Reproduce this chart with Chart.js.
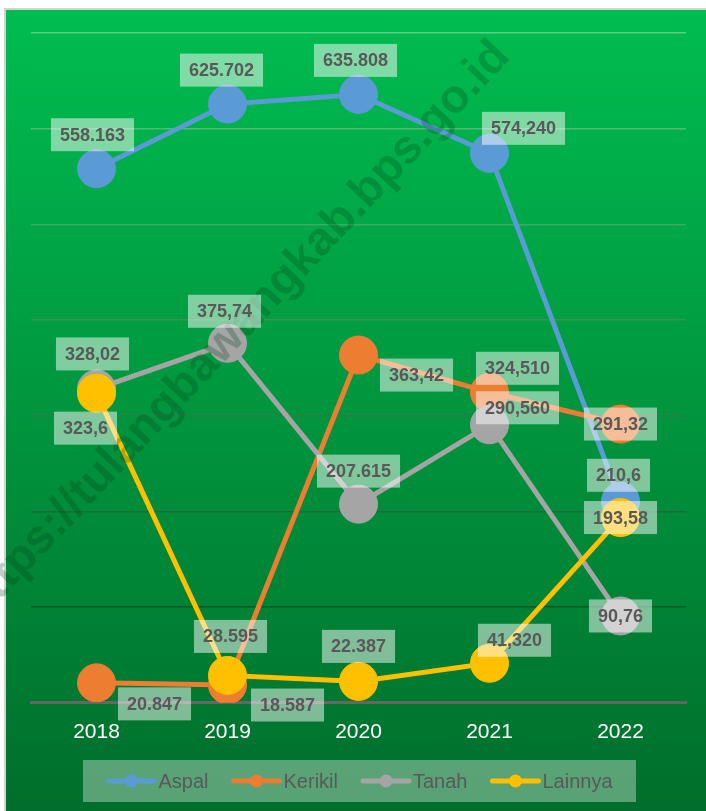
<!DOCTYPE html>
<html>
<head>
<meta charset="utf-8">
<script src="https://cdn.jsdelivr.net/npm/chart.js@4/dist/chart.umd.min.js"></script>
<style>
  html, body { margin: 0; padding: 0; background: #fff; }
  #wrap { width: 706px; height: 811px; }
</style>
</head>
<body>
<div id="wrap"><canvas id="roadChart" width="706" height="811"></canvas></div>
<script>
// --- Data ---
const years = ['2018', '2019', '2020', '2021', '2022'];
const aspal = [558.163, 625.702, 635.808, 574.240, 210.6];
const kerikil = [20.847, 18.587, 363.42, 324.510, 291.32];
const tanah = [328.02, 375.74, 207.615, 290.560, 90.76];
const lainnya = [323.6, 28.595, 22.387, 41.320, 193.58];

// labels as printed on the chart
const aspalText = ['558.163', '625.702', '635.808', '574,240', '210,6'];
const kerikilText = ['20.847', '18.587', '363,42', '324,510', '291,32'];
const tanahText = ['328,02', '375,74', '207.615', '290,560', '90,76'];
const lainnyaText = ['323,6', '28.595', '22.387', '41,320', '193,58'];

// label box offsets from the point (px)
const aspalOff = [[-4, -34], [-6, -34], [-3, -34], [34, -25], [-2, -26]];
const kerikilOff = [[58, 21], [60, 20], [58, 20], [28, -24], [0, 0]];
const tanahOff = [[-4, -35], [-3, -32], [0, -33], [28, -17], [0, 0]];
const lainnyaOff = [[-11, 35], [3, -39], [0, -35], [25, -23], [0, 0]];

const series = [
  { name: 'Aspal', values: aspal, text: aspalText, off: aspalOff, color: '#5b9bd5' },
  { name: 'Kerikil', values: kerikil, text: kerikilText, off: kerikilOff, color: '#ed7d31' },
  { name: 'Tanah', values: tanah, text: tanahText, off: tanahOff, color: '#a5a5a5' },
  { name: 'Lainnya', values: lainnya, text: lainnyaText, off: lainnyaOff, color: '#ffc000' }
];

// gridline colour goes from dark (bottom) to light (top)
function mix(a, b, t) {
  const pa = [1, 3, 5].map(i => parseInt(a.substr(i, 2), 16));
  const pb = [1, 3, 5].map(i => parseInt(b.substr(i, 2), 16));
  return 'rgb(' + pa.map((v, i) => Math.round(v + (pb[i] - v) * t)).join(',') + ')';
}

// --- Plugins ---
const backdrop = {
  id: 'backdrop',
  beforeDraw(chart) {
    const ctx = chart.ctx;
    const g = ctx.createLinearGradient(0, 10, 0, 811);
    g.addColorStop(0, '#00bd50');
    g.addColorStop(1, '#006e2c');
    ctx.save();
    ctx.fillStyle = '#ffffff';
    ctx.fillRect(0, 0, chart.width, chart.height);
    ctx.fillStyle = '#d2d2d2';
    ctx.fillRect(4, 8, chart.width - 4, chart.height - 8);
    ctx.fillStyle = g;
    ctx.fillRect(6, 10, chart.width - 6, chart.height - 10);
    ctx.restore();
  }
};

const pointLabels = {
  id: 'pointLabels',
  afterDatasetsDraw(chart) {
    const ctx = chart.ctx;
    ctx.save();
    ctx.font = 'bold 18px "Liberation Sans", Arial, sans-serif';
    ctx.textAlign = 'center';
    ctx.textBaseline = 'middle';
    series.forEach((s, di) => {
      const meta = chart.getDatasetMeta(di);
      meta.data.forEach((pt, i) => {
        const cx = pt.x + s.off[i][0];
        const cy = pt.y + s.off[i][1];
        const w = ctx.measureText(s.text[i]).width + 18;
        const h = 33;
        ctx.fillStyle = 'rgba(255,255,255,0.5)';
        ctx.fillRect(cx - w / 2, cy - h / 2, w, h);
        ctx.fillStyle = '#595959';
        ctx.fillText(s.text[i], cx, cy + 1);
      });
    });
    ctx.restore();
  }
};

const watermark = {
  id: 'watermark',
  afterDatasetsDraw(chart) {
    const ctx = chart.ctx;
    ctx.save();
    ctx.translate(236, 331);
    ctx.rotate(-46.7 * Math.PI / 180);
    ctx.font = 'bold 47px "Liberation Sans", Arial, sans-serif';
    ctx.textAlign = 'center';
    ctx.textBaseline = 'middle';
    ctx.fillStyle = 'rgba(0,60,20,0.25)';
    ctx.fillText('https://tulangbawangkab.bps.go.id', 0, 0);
    ctx.restore();
  }
};

const lineLegend = {
  id: 'lineLegend',
  afterDraw(chart) {
    const ctx = chart.ctx;
    ctx.save();
    ctx.fillStyle = 'rgba(255,255,255,0.35)';
    ctx.fillRect(83, 760, 553, 42);
    ctx.font = '20px "Liberation Sans", Arial, sans-serif';
    ctx.textBaseline = 'middle';
    const lineW = 50, gapText = 2, gapItem = 23;
    const widths = series.map(s => lineW + gapText + ctx.measureText(s.name).width);
    const total = widths.reduce((a, b) => a + b, 0) + gapItem * (series.length - 1);
    let x = 359.5 - total / 2;
    const y = 781;
    series.forEach((s, i) => {
      ctx.strokeStyle = s.color;
      ctx.lineWidth = 5;
      ctx.lineCap = 'round';
      ctx.beginPath();
      ctx.moveTo(x + 2, y);
      ctx.lineTo(x + lineW - 2, y);
      ctx.stroke();
      ctx.fillStyle = s.color;
      ctx.beginPath();
      ctx.arc(x + lineW / 2, y, 6.5, 0, Math.PI * 2);
      ctx.fill();
      ctx.fillStyle = '#595959';
      ctx.textAlign = 'left';
      ctx.fillText(s.name, x + lineW + gapText, y + 1);
      x += widths[i] + gapItem;
    });
    ctx.restore();
  }
};

// --- Chart ---
const ctx = document.getElementById('roadChart').getContext('2d');
new Chart(ctx, {
  type: 'line',
  data: {
    labels: years,
    datasets: series.map((s, i) => ({
      label: s.name,
      data: s.values,
      borderColor: s.color,
      backgroundColor: s.color,
      pointBackgroundColor: s.color,
      pointBorderColor: s.color,
      borderWidth: 5,
      pointRadius: 19,
      pointBorderWidth: 1,
      pointHoverRadius: 19,
      tension: 0,
      order: series.length - i
    }))
  },
  options: {
    responsive: false,
    animation: false,
    layout: { padding: { left: 31, right: 20, top: 33, bottom: 49 } },
    plugins: { legend: { display: false }, tooltip: { enabled: false } },
    scales: {
      x: {
        offset: true,
        grid: { display: false, drawTicks: false },
        border: { color: '#666666', width: 3 },
        ticks: { color: '#ffffff', padding: 17, font: { family: '"Liberation Sans", Arial, sans-serif', size: 21 } }
      },
      y: {
        min: 0,
        max: 700,
        ticks: { display: false, stepSize: 100 },
        border: { display: false },
        grid: {
          drawTicks: false,
          lineWidth: 1.5,
          color: c => c.index === 0 ? 'rgba(0,0,0,0)' : mix('#0b5a2a', '#62cc88', (c.index - 1) / 6)
        }
      }
    }
  },
  plugins: [backdrop, watermark, pointLabels, lineLegend]
});
</script>
</body>
</html>
